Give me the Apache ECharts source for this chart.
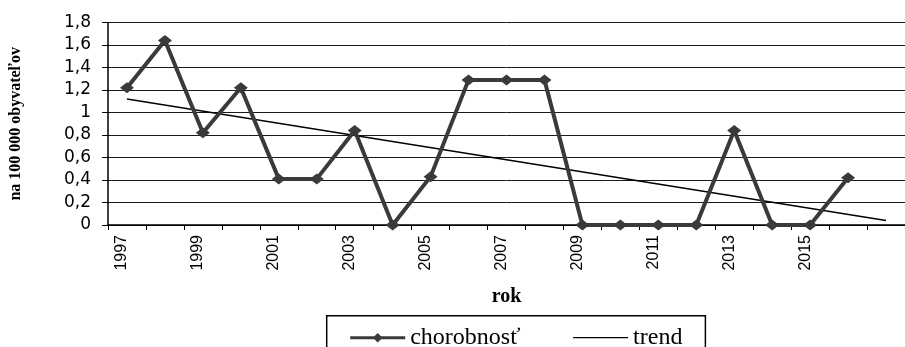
<!DOCTYPE html>
<html>
<head>
<meta charset="utf-8">
<script src="https://cdn.jsdelivr.net/npm/echarts@6/dist/echarts.min.js"></script>
<style>
  html, body { margin: 0; padding: 0; background: #fff; }
  #chart { width: 905px; height: 347px; }
</style>
</head>
<body>
<div id="chart"></div>
<script>
// Years on the category axis (2017 is the trend forecast slot)
const years = ['1997','1998','1999','2000','2001','2002','2003','2004','2005','2006',
               '2007','2008','2009','2010','2011','2012','2013','2014','2015','2016','2017'];

// Incidence per 100 000 inhabitants
const incidence = [1.22, 1.64, 0.82, 1.22, 0.41, 0.41, 0.84, 0, 0.43, 1.29,
                   1.29, 1.29, 0, 0, 0, 0, 0.84, 0, 0, 0.42];

// Linear trend: start and end values
const trendYears = ['1997', '2017'];
const trendValues = [1.12, 0.04];

// Value axis ticks
const yMin = 0, yMax = 1.8, yStep = 0.2;

const chart = echarts.init(document.getElementById('chart'), null, { renderer: 'canvas' });

chart.setOption({
  animation: false,
  backgroundColor: '#ffffff',
  grid: { left: 106.7, top: 22.5, width: 802.3, height: 202.5, containLabel: false },
  xAxis: {
    type: 'category',
    data: years,
    boundaryGap: true,
    name: 'rok',
    nameLocation: 'middle',
    nameGap: 62,
    nameTextStyle: { fontFamily: 'Liberation Serif', fontWeight: 'bold', fontSize: 20, color: '#000' },
    axisLine: { lineStyle: { color: '#000', width: 1.5 } },
    axisTick: { show: true, alignWithLabel: false, interval: 0, length: 5, lineStyle: { color: '#000', width: 1 } },
    axisLabel: {
      rotate: 90,
      margin: 10,
      interval: function (idx) { return idx % 2 === 0 && idx < incidence.length; },
      fontFamily: 'Liberation Sans',
      fontSize: 16,
      color: '#000',
      verticalAlign: 'bottom',
      lineHeight: 10
    },
    splitLine: { show: false }
  },
  yAxis: {
    type: 'value',
    min: yMin,
    max: yMax,
    interval: yStep,
    name: 'na 100 000 obyvateľov',
    nameLocation: 'middle',
    nameRotate: 90,
    nameGap: 84,
    nameTextStyle: { fontFamily: 'Liberation Serif', fontWeight: 'bold', fontSize: 16, color: '#000' },
    axisLine: { show: true, lineStyle: { color: '#000', width: 1.5 } },
    axisTick: { show: true, length: 6, lineStyle: { color: '#000', width: 1 } },
    axisLabel: {
      margin: 17,
      fontFamily: 'DejaVu Sans',
      fontSize: 17,
      color: '#000',
      formatter: function (v) { return String(Math.round(v * 10) / 10).replace('.', ','); }
    },
    splitLine: { show: true, lineStyle: { color: '#1a1a1a', width: 1 } }
  },
  legend: {
    left: 326.7,
    top: 315.7,
    orient: 'horizontal',
    padding: [10, 23, 20, 22],
    borderColor: '#000',
    borderWidth: 1.5,
    itemWidth: 55,
    itemHeight: 12,
    itemGap: 52,
    textStyle: { fontFamily: 'Liberation Serif', fontSize: 24, color: '#000' },
    data: [
      { name: 'chorobnosť', lineStyle: { width: 3, color: '#3a3a3a' } },
      { name: 'trend', itemStyle: { opacity: 0, borderWidth: 0 }, lineStyle: { width: 1.3, color: '#000' } }
    ]
  },
  series: [
    {
      name: 'chorobnosť',
      type: 'line',
      data: incidence,
      symbol: 'diamond',
      symbolSize: [14, 11],
      showAllSymbol: true,
      lineStyle: { color: '#3a3a3a', width: 4 },
      itemStyle: { color: '#3a3a3a' },
      z: 3
    },
    {
      name: 'trend',
      type: 'line',
      data: trendYears.map(function (y, i) { return [y, trendValues[i]]; }),
      symbol: 'none',
      lineStyle: { color: '#000', width: 1.3 },
      itemStyle: { color: '#000' },
      z: 2
    }
  ]
});
</script>
</body>
</html>
